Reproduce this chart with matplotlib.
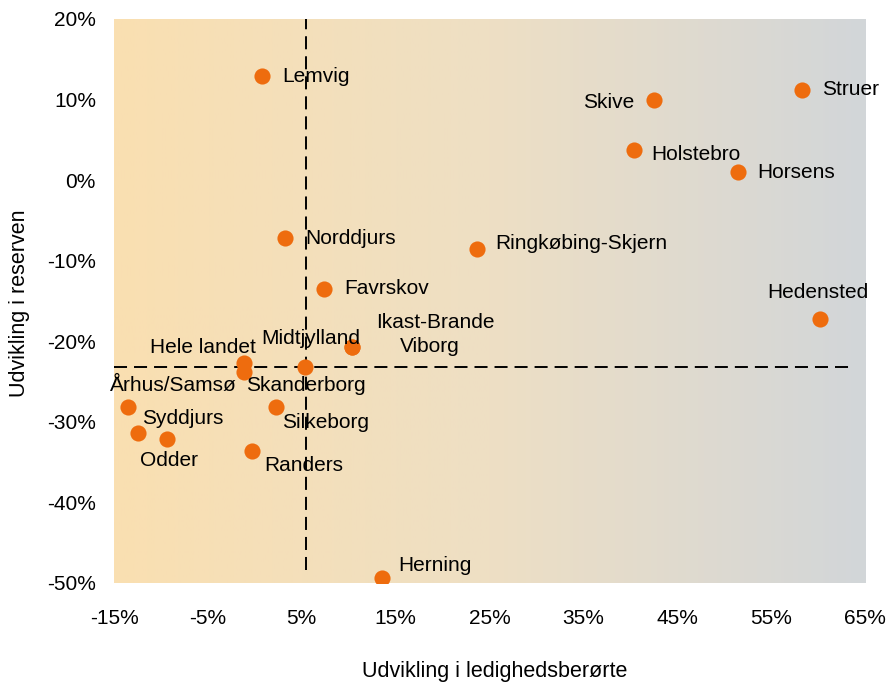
import matplotlib
matplotlib.use("Agg")
import matplotlib.pyplot as plt
import numpy as np
from matplotlib.colors import LinearSegmentedColormap

plt.rcParams['font.family'] = ['Liberation Sans', 'DejaVu Sans']

names = ["Lemvig", "Skive", "Struer", "Holstebro", "Horsens", "Norddjurs",
         "Ringkøbing-Skjern", "Favrskov", "Hedensted", "Ikast-Brande", "Viborg",
         "Midtjylland", "Hele landet", "Skanderborg", "Århus/Samsø", "Syddjurs",
         "Odder", "Silkeborg", "Randers", "Herning"]
x_vals = [0.8, 42.5, 58.3, 40.4, 51.5, 3.2, 23.7, 7.4, 60.2, 10.4, 10.4,
          5.3, -1.1, -1.1, -13.5, -12.4, -9.4, 2.3, -0.3, 13.6]
y_vals = [12.9, 9.9, 11.2, 3.7, 1.0, -7.2, -8.5, -13.5, -17.2, -20.7, -20.7,
          -23.2, -22.7, -23.8, -28.1, -31.4, -32.1, -28.1, -33.6, -49.4]
avg_x = 5.5
avg_y = -23.2
x_ticks = [-15, -5, 5, 15, 25, 35, 45, 55, 65]
y_ticks = [-50, -40, -30, -20, -10, 0, 10, 20]

# label offsets in pixels (dx, dy, ha)
offsets = {
    "Lemvig": (20, 0, "left"), "Skive": (-19, -2, "right"), "Struer": (20, 0, "left"),
    "Holstebro": (17, -4, "left"), "Horsens": (19, 0, "left"), "Norddjurs": (20, 0, "left"),
    "Ringkøbing-Skjern": (18, 5, "left"), "Favrskov": (20, 0, "left"),
    "Hedensted": (-2, 26, "center"), "Ikast-Brande": (83, 24, "center"),
    "Viborg": (47, 0, "left"), "Midtjylland": (6, 29, "center"),
    "Hele landet": (-42, 16, "center"), "Skanderborg": (61, -14, "center"),
    "Århus/Samsø": (45, 21, "center"), "Syddjurs": (44, 15, "center"),
    "Odder": (2, -22, "center"), "Silkeborg": (49, -16, "center"),
    "Randers": (52, -15, "center"), "Herning": (52, 13, "center"),
}

fig = plt.figure(figsize=(8.88, 6.84), dpi=100)
ax = fig.add_axes([114/888, 1-583/684, (865-114)/888, (583-19)/684])
ax.set_xlim(-15, 65)
ax.set_ylim(-50, 20)

cmap = LinearSegmentedColormap.from_list("bg", ["#FADFB1", "#EEDFC4", "#D2D6D9"])
grad = np.linspace(0, 1, 256).reshape(1, -1)
ax.imshow(grad, extent=[-15, 65, -50, 20], aspect='auto', cmap=cmap, zorder=0)

ax.plot([avg_x, avg_x], [-48.4, 20], color='black', lw=1.4, dashes=(6.7, 3.6), zorder=1)
ax.plot([-15, 63.8], [avg_y, avg_y], color='black', lw=1.4, dashes=(6.7, 3.6), zorder=1)

ax.scatter(x_vals, y_vals, s=135, color='#EE6C0E', zorder=3, linewidths=0)

for n, xv, yv in zip(names, x_vals, y_vals):
    dx, dy, ha = offsets[n]
    ax.annotate(n, (xv, yv), xytext=(dx*0.72, dy*0.72), textcoords='offset points',
                ha=ha, va='center', fontsize=15, color='black', zorder=4)

ax.set_xticks(x_ticks)
ax.set_xticklabels([f"{t}%" for t in x_ticks])
ax.set_yticks(y_ticks)
ax.set_yticklabels([f"{t}%" for t in y_ticks])
ax.tick_params(length=0, labelsize=15)
ax.tick_params(axis='x', pad=19)
ax.tick_params(axis='y', pad=13)
for s in ax.spines.values():
    s.set_visible(False)

fig.text(495/888, 1-672/684, "Udvikling i ledighedsberørte", ha='center', va='center', fontsize=15.5)
fig.text(20/888, 1-303/684, "Udvikling i reserven", ha='center', va='center', rotation=90, fontsize=15.5)

fig.savefig("out.png", dpi=100)
